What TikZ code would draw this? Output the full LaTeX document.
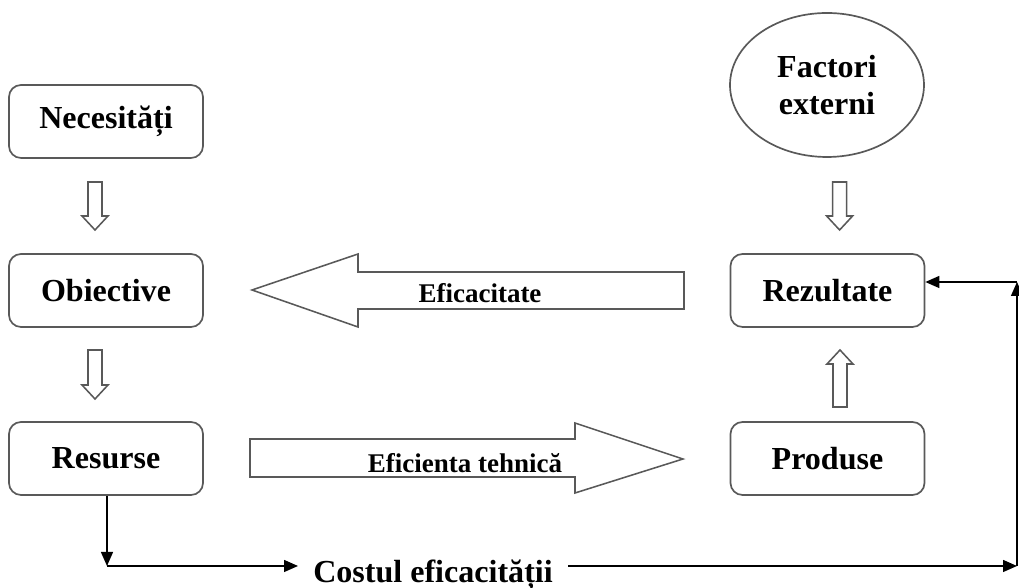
\documentclass[tikz,border=0pt]{standalone}
\usepackage{fontspec}
\setmainfont{Liberation Serif}
\usetikzlibrary{shapes.geometric,arrows.meta}

\tikzset{
  box/.style={draw=black!65, line width=1.2pt, rounded corners=0.3cm,
    minimum width=4.85cm, minimum height=1.825cm,
    font=\fontsize{22.8}{26.3}\selectfont\bfseries},
  hollow/.style={draw=black!65, line width=1.1pt, fill=white, line join=miter},
  flowlabel/.style={font=\fontsize{19.2}{22}\selectfont\bfseries, inner sep=0pt},
  link/.style={line width=1pt, -{Triangle[length=0.35cm,width=0.3cm]}}
}

\begin{document}
\begin{tikzpicture}
    \useasboundingbox (0,0) rectangle (25.475,14.7);

    % Left column
    \node[box] (nec) at (2.65,11.6625) {Necesități};
    \node[box] (obi) at (2.65,7.4375) {Obiective};
    \node[box] (res) at (2.65,3.2375) {Resurse};

    % Right column
    \node[box, ellipse, sharp corners, minimum height=3.6cm, align=center]
      (fact) at (20.675,12.575) {Factori\\externi};
    \node[box] (rez) at (20.6875,7.4375) {Rezultate};
    \node[box] (prod) at (20.6875,3.2375) {Produse};

    % Small hollow arrows
    \foreach \tipx/\tipy/\len/\ang in {2.375/8.95/1.2/0, 2.375/4.725/1.225/0,
        20.99/8.95/1.2/0, 21.0/5.95/1.425/180}
      \draw[hollow, shift={(\tipx,\tipy)}, rotate=\ang]
        (0,0) -- (-0.325,0.35) -- (-0.175,0.35) -- (-0.175,\len)
        -- (0.175,\len) -- (0.175,0.35) -- (0.325,0.35) -- cycle;

    % Eficacitate
    \draw[hollow] (6.3,7.45) -- (8.95,8.35) -- (8.95,7.9) -- (17.1,7.9)
      -- (17.1,6.975) -- (8.95,6.975) -- (8.95,6.525) -- cycle;
    \node[flowlabel] (eficac) at (12.0,7.375) {Eficacitate};

    % Eficienta tehnica
    \draw[hollow] (6.25,3.725) -- (14.375,3.725) -- (14.375,4.125)
      -- (17.075,3.225) -- (14.375,2.375) -- (14.375,2.775) -- (6.25,2.775) -- cycle;
    \node[flowlabel] (eftehn) at (11.625,3.125) {Eficienta tehnică};

    % Cost loop
    \node[font=\fontsize{22.8}{26.3}\selectfont\bfseries, anchor=base west,
      inner xsep=0.375cm] (cost) at (7.45,0.125) {Costul eficacității};
    \coordinate (c1) at (2.675,0.55);
    \coordinate (c2) at (25.425,0.55);
    \coordinate (c3) at (25.425,7.65);
    \draw[link] (res.south -| c1) -- (c1);
    \draw[link] (c1) -- (cost.west |- c1);
    \draw[link] (cost.east |- c1) -- (c2);
    \draw[link] (c2) -- (c3);
    \draw[link] (c3) -- (rez.east |- c3);
  \end{tikzpicture}
\end{document}
